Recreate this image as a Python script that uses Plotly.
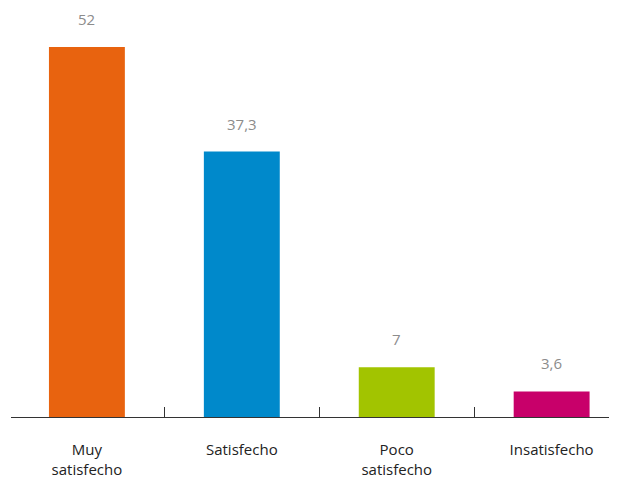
import plotly.graph_objects as go

categories = ["Muy<br>satisfecho", "Satisfecho", "Poco<br>satisfecho", "Insatisfecho"]
values = [52, 37.3, 7, 3.6]
value_labels = ["52", "37,3", "7", "3,6"]
colors = ["#E8630F", "#0089CB", "#A2C400", "#C8006A"]

fig = go.Figure()
fig.add_trace(go.Bar(x=categories, y=values, marker=dict(color=colors, line=dict(width=0)),
                     hoverinfo="skip"))

for c, v, t in zip(categories, values, value_labels):
    fig.add_annotation(x=c, y=v, text=t, showarrow=False, yanchor="middle", yshift=28,
                       font=dict(family="Open Sans", size=15, color="#8C8C8C"))

fig.update_layout(
    width=609, height=472,
    margin=dict(l=3, r=0, t=2, b=63),
    paper_bgcolor="white", plot_bgcolor="white",
    bargap=0.51, showlegend=False,
    xaxis=dict(type="category", range=[-0.49, 3.422], showline=True, linecolor="#333333",
               linewidth=1, ticks="inside", tickson="boundaries", ticklen=10,
               tickcolor="#333333", showgrid=False, ticklabelstandoff=19,
               tickfont=dict(family="Open Sans", size=15, color="#222222")),
    yaxis=dict(range=[0, 57.2], visible=False, showgrid=False, zeroline=False),
)
fig.write_html("out.html")
